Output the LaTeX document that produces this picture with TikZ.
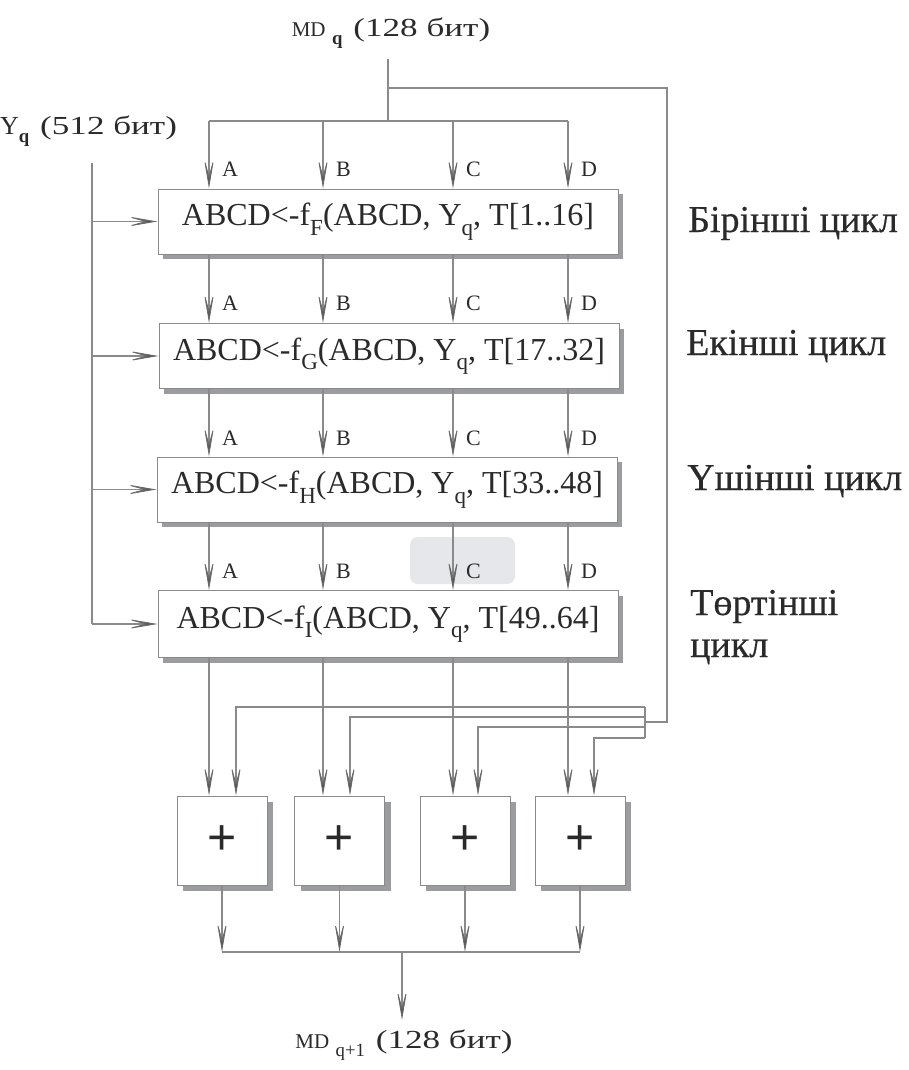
\documentclass[tikz,border=0pt]{standalone}
\usepackage{fontspec}
\setmainfont{Liberation Serif}
\newfontfamily\timesfont{Liberation Serif}
\newfontfamily\cyclefont[FakeBold=0.5]{Liberation Serif}
\newfontfamily\plusfont{Liberation Sans}
\usetikzlibrary{arrows.meta,shadows}

\definecolor{linegray}{HTML}{8A8A8A}
\definecolor{tipgray}{HTML}{505050}
\definecolor{tipedge}{HTML}{6A6A6A}
\definecolor{shadowgray}{HTML}{9A9CA0}
\definecolor{markgray}{HTML}{E6E7EA}
\definecolor{inkgray}{HTML}{2A2A2A}

% lowered, reduced index text
\newcommand\lowidx[1]{\raisebox{-0.3em}{\scalebox{0.72}{#1}}}
\newcommand\stretched[1]{\scalebox{1.35}[1]{#1}}

\tikzset{
  wire/.style={draw=linegray, line width=1.2pt},
  arr/.style={wire, -{Stealth[length=35pt, width=12pt, inset=22pt, fill=tipgray, color=tipedge, line width=0.9pt]}},
  roundbox/.style={draw=linegray, line width=1pt, fill=white, text=inkgray,
    minimum width=460pt, minimum height=65pt, inner sep=0pt,
    drop shadow={shadow xshift=5pt, shadow yshift=-5pt, fill=shadowgray, opacity=1},
    font=\timesfont\fontsize{32}{36}\selectfont},
  addbox/.style={draw=linegray, line width=1pt, fill=white, text=inkgray,
    minimum width=90pt, minimum height=89pt, inner sep=0pt,
    drop shadow={shadow xshift=6pt, shadow yshift=-6pt, fill=shadowgray, opacity=1},
    font=\plusfont\fontsize{50}{50}\selectfont},
  reg/.style={anchor=west, inner sep=0pt, text=inkgray, font=\timesfont\fontsize{22}{24}\selectfont},
  cycle/.style={anchor=base west, inner sep=0pt, text=inkgray, font=\cyclefont\fontsize{38}{40}\selectfont},
  title/.style={inner sep=0pt, text=inkgray, font=\timesfont\fontsize{26}{30}\selectfont},
}

\begin{document}
\begin{tikzpicture}[x=1pt, y=-1pt]
\useasboundingbox (0,0) rectangle (909,1070);

% soft grey mark behind the lower C label
\fill[markgray, rounded corners=8pt] (410,537) rectangle (515,584);

% labels of the input and output
\node[title] (mdin) at (391,33) {{\fontsize{21}{22}\selectfont MD}\ \lowidx{\fontsize{26}{28}\selectfont\bfseries q}\, \stretched{(128 бит)}};
\node[title, anchor=west] (yq) at (0,131) {{\fontsize{26}{28}\selectfont Y}\lowidx{\fontsize{26}{28}\selectfont\bfseries q}\, \stretched{(512 бит)}};
\node[title] (mdout) at (404,1045) {{\fontsize{21}{22}\selectfont MD}\ \lowidx{\fontsize{26}{28}\selectfont q+1}\, \stretched{(128 бит)}};

% the four rounds
\node[roundbox] (f1) at (388,221.5) {ABCD<-f\lowidx{F}(ABCD, Y\lowidx{q}, T[1..16]};
\node[roundbox] (f2) at (389,356) {ABCD<-f\lowidx{G}(ABCD, Y\lowidx{q}, T[17..32]};
\node[roundbox] (f3) at (387,489.5) {ABCD<-f\lowidx{H}(ABCD, Y\lowidx{q}, T[33..48]};
\node[roundbox, minimum height=67pt] (f4) at (388,624) {ABCD<-f\lowidx{I}(ABCD, Y\lowidx{q}, T[49..64]};

% round names
\node[cycle] (c1) at (688,232) {Бірінші цикл};
\node[cycle] (c2) at (686,355) {Екінші цикл};
\node[cycle] (c3) at (687,490) {Үшінші цикл};
\node[cycle] (c4) at (690,615) {Төртінші};
\node[cycle] (c4b) at (690,657) {цикл};

% adders
\node[addbox] (p1) at (222,840.5) {+};
\node[addbox] (p2) at (339.5,840.5) {+};
\node[addbox] (p3) at (465,840.5) {+};
\node[addbox] (p4) at (580,840.5) {+};

% junctions
\coordinate (top) at (388,59);
\coordinate (split) at (388,121);
\coordinate (turn) at (388,88);
\coordinate (ja) at (209,121);
\coordinate (jb) at (323,121);
\coordinate (jc) at (453,121);
\coordinate (jd) at (568,121);
\coordinate (fbtop) at (667,88);
\coordinate (fbbot) at (667,722);
\coordinate (busjoin) at (645,722);
\coordinate (bustop) at (645,707);
\coordinate (busbot) at (645,738);
\coordinate (ka) at (236,707);
\coordinate (kb) at (350,717);
\coordinate (kc) at (478,727);
\coordinate (kd) at (594,738);
\coordinate (ytop) at (92,163);
\coordinate (sum) at (402,952);
\coordinate (sumend) at (402,1020);

% chaining value into the first round
\draw[wire] (top) -- (split);
\draw[wire] (ja) -- (jd);
\foreach \c in {ja,jb,jc,jd}
  \draw[arr] (\c) -- (\c |- f1.north);

% register labels
\foreach \y in {169,303,438,571}{
  \node[reg] at (222,\y) {A};
  \node[reg] at (336,\y) {B};
  \node[reg] at (466,\y) {C};
  \node[reg] at (581,\y) {D};
}

% round to round
\foreach \c in {ja,jb,jc,jd}{
  \draw[arr] (\c |- f1.south) -- (\c |- f2.north);
  \draw[arr] (\c |- f2.south) -- (\c |- f3.north);
  \draw[arr] (\c |- f3.south) -- (\c |- f4.north);
  \draw[arr] (\c |- f4.south) -- (\c |- p1.north);
}

% message block feeding every round
\draw[wire] (ytop) -- (ytop |- f4.west);
\foreach \f in {f1,f2,f3,f4}
  \draw[arr] (ytop |- \f.west) -- (\f.west);

% feed-forward of the chaining value
\draw[wire] (turn) -- (fbtop) -- (fbbot) -- (busjoin);
\draw[wire] (bustop) -- (busbot);
\draw[arr] (bustop) -- (ka) -- (ka |- p1.north);
\draw[arr] (busjoin |- kb) -- (kb) -- (kb |- p2.north);
\draw[arr] (busjoin |- kc) -- (kc) -- (kc |- p3.north);
\draw[arr] (busbot) -- (kd) -- (kd |- p4.north);

% adder outputs
\draw[arr] (p1.south) -- (p1.south |- sum);
\draw[arr] (p2.south) -- (p2.south |- sum);
\draw[arr] (p3.south) -- (p3.south |- sum);
\draw[arr] (p4.south) -- (p4.south |- sum);
\draw[wire] (p1.south |- sum) -- (p4.south |- sum);
\draw[arr] (sum) -- (sumend);
\end{tikzpicture}
\end{document}
